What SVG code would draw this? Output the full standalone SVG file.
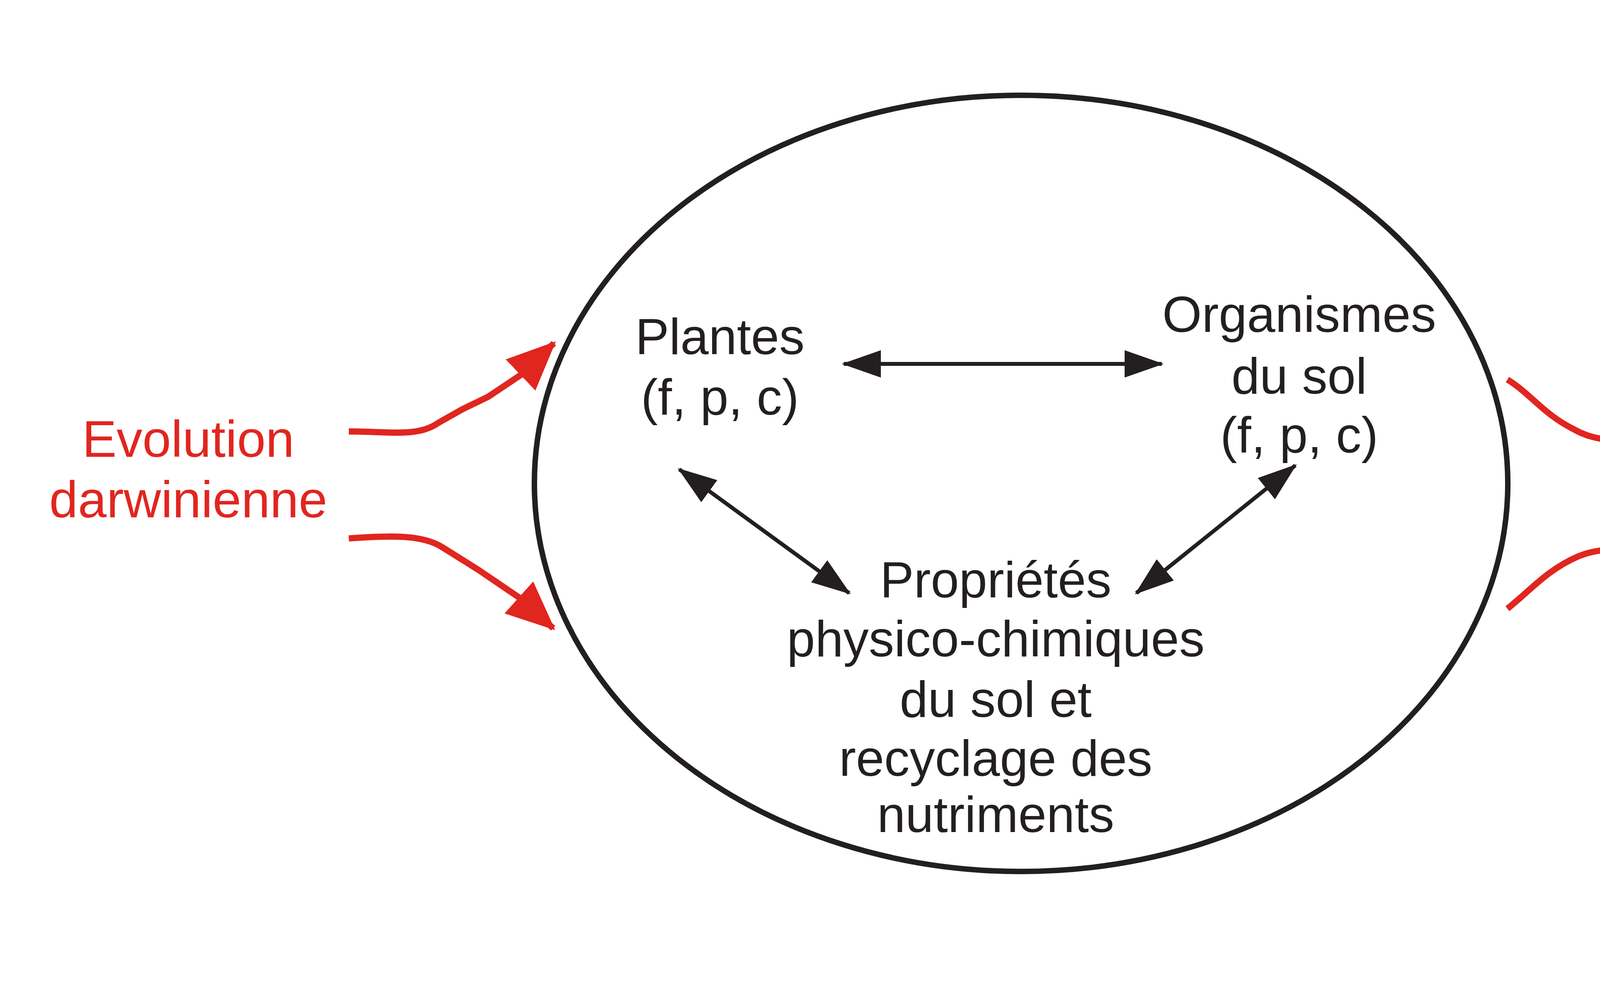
<svg xmlns="http://www.w3.org/2000/svg" width="5646" height="2533" viewBox="0 0 5646 2533">
<style>
.b{font-family:"Liberation Sans",Arial,sans-serif;font-size:130px;fill:#231f20;text-anchor:middle}
.r{font-family:"Liberation Sans",Arial,sans-serif;font-size:132px;fill:#e0261f;text-anchor:middle}
.bl{stroke:#231f20;stroke-width:10;fill:none}
.rl{stroke:#e0261f;stroke-width:16;fill:none;stroke-linejoin:round}
</style>
<defs>
<marker id="ab" markerUnits="userSpaceOnUse" markerWidth="100" markerHeight="80" refX="95" refY="35" orient="auto-start-reverse" viewBox="0 0 100 70"><path d="M0,0 L100,35 L0,70 Z" fill="#231f20"/></marker>
<marker id="ar" markerUnits="userSpaceOnUse" markerWidth="125" markerHeight="115" refX="118" refY="55" orient="auto" viewBox="0 0 125 110"><path d="M0,0 L125,55 L0,110 Z" fill="#e0261f"/></marker>
</defs>
<rect width="5646" height="2533" fill="#fff"/>
<g id="ellipse"><ellipse cx="2614" cy="1238" rx="1246" ry="994" fill="none" stroke="#231f20" stroke-width="14"/></g>
<g id="plantes"><text class="b" x="1843" y="907">Plantes</text><text class="b" x="1843" y="1062">(f, p, c)</text></g>
<g id="organismes"><text class="b" x="3326" y="850">Organismes</text><text class="b" x="3326" y="1008">du sol</text><text class="b" x="3326" y="1159">(f, p, c)</text></g>
<g id="proprietes-sol"><text class="b" x="2549" y="1530">Propriétés</text><text class="b" x="2549" y="1681">physico-chimiques</text><text class="b" x="2549" y="1836">du sol et</text><text class="b" x="2549" y="1987">recyclage des</text><text class="b" x="2549" y="2131">nutriments</text></g>
<g id="evolution"><text class="r" x="482" y="1170">Evolution</text><text class="r" x="482" y="1325">darwinienne</text></g>
<g id="services"><text class="r" x="5004" y="1008">Propriétés</text><text class="r" x="5004" y="1166">des écosystèmes</text><text class="r" x="5004" y="1321">Services</text><text class="r" x="4990" y="1480">écosystémiques</text></g>
<g id="connectors">
<path class="bl" d="M2160,932 L2974,932" marker-start="url(#ab)" marker-end="url(#ab)"/>
<path class="bl" d="M1739,1202 L2174,1519" marker-start="url(#ab)" marker-end="url(#ab)"/>
<path class="bl" d="M3316,1192 L2909,1519" marker-start="url(#ab)" marker-end="url(#ab)"/>
<path class="rl" d="M893,1105 C1000,1105 1070,1120 1122,1083 L1184,1048 L1250,1016 L1332,961 L1418,879" marker-end="url(#ar)"/>
<path class="rl" d="M893,1379 C1000,1372 1080,1368 1133,1402 L1224,1459 L1327,1529 L1416,1609" marker-end="url(#ar)"/>
<path class="rl" d="M3859,972 C3920,1010 3950,1060 4030,1100 C4100,1140 4200,1134 4410,1130" marker-end="url(#ar)"/>
<path class="rl" d="M3859,1559 C3920,1510 3960,1460 4040,1425 C4110,1395 4200,1408 4410,1404" marker-end="url(#ar)"/>
</g>
</svg>
